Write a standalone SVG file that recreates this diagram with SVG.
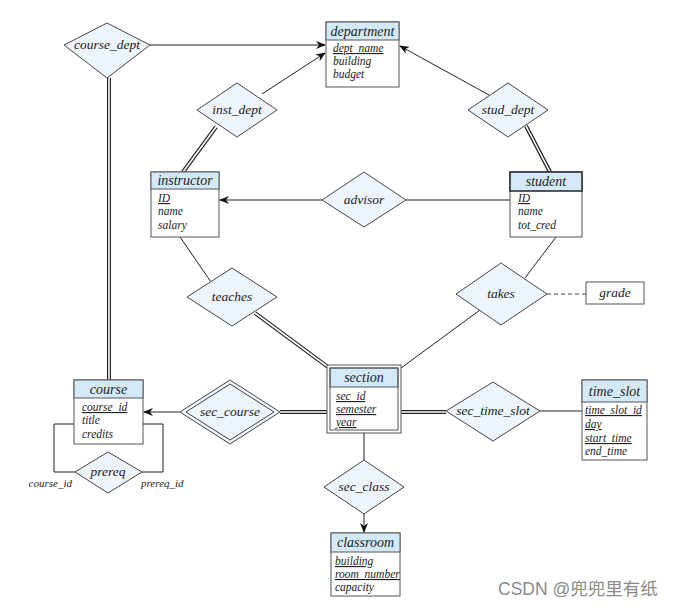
<svg xmlns="http://www.w3.org/2000/svg" width="685" height="609" viewBox="0 0 685 609">
<style>
.box{fill:#fff;stroke:#555;stroke-width:1}
.hdr{fill:#d3e9f7;stroke:#555;stroke-width:1}
.dia{fill:#eef4fb;stroke:#444;stroke-width:1}
.ln{fill:none;stroke:#222;stroke-width:1}
.dbl{fill:none;stroke:#222;stroke-width:4}
.dblw{fill:none;stroke:#fff;stroke-width:1.6}
.dash{fill:none;stroke:#444;stroke-width:1;stroke-dasharray:4,3}
text{font-family:"Liberation Serif","DejaVu Serif",serif;font-style:italic;fill:#222}
.ht{font-size:14px;text-anchor:middle}
.at{font-size:11.5px}
.u{text-decoration:underline}
.dt{font-size:13.5px;text-anchor:middle}
.lb{font-size:11px}
.wm{font-family:"Liberation Sans","Noto Sans CJK SC",sans-serif;font-style:normal;font-size:17.5px;fill:#8a8a8a}
</style>
<defs>
<marker id="ar" markerWidth="10" markerHeight="8" refX="9" refY="4" orient="auto" markerUnits="userSpaceOnUse">
<path d="M0,0 L10,4 L0,8 L3,4 Z" fill="#111"/>
</marker>
</defs>
<g id="connectors">
<path class="ln" d="M150,45 L325,45" marker-end="url(#ar)"/>
<path class="dbl" d="M109,78 L109,380"/><path class="dblw" d="M109,78 L109,380"/>
<path class="ln" d="M262,94 L325,53" marker-end="url(#ar)"/>
<path class="dbl" d="M216,127 L183,172"/><path class="dblw" d="M216,127 L183,172"/>
<path class="ln" d="M489,95 L400,46" marker-end="url(#ar)"/>
<path class="dbl" d="M526,126 L550,172"/><path class="dblw" d="M526,126 L550,172"/>
<path class="ln" d="M322,200 L220,200" marker-end="url(#ar)"/>
<path class="ln" d="M406,200 L510,200"/>
<path class="ln" d="M180,237 L211,282"/>
<path class="dbl" d="M255,313 L328,367"/><path class="dblw" d="M255,313 L328,367"/>
<path class="ln" d="M556,237 L525,278"/>
<path class="ln" d="M480,310 L401,368"/>
<path class="dash" d="M547,294 L586,294"/>
<path class="ln" d="M180,412 L144,412" marker-end="url(#ar)"/>
<path class="dbl" d="M280,412 L327,412"/><path class="dblw" d="M280,412 L327,412"/>
<path class="dbl" d="M401,412 L446,412"/><path class="dblw" d="M401,412 L446,412"/>
<path class="ln" d="M540,411 L582,411"/>
<path class="ln" d="M364,433 L364,460"/>
<path class="ln" d="M364,514 L364,532" marker-end="url(#ar)"/>
<path class="ln" d="M74,424 L54,424 L54,472 L75,472"/>
<path class="ln" d="M143,424 L163,424 L163,472 L142,472"/>
</g>
<g id="department">
<rect class="box" x="326" y="22" width="73" height="65"/>
<rect class="hdr" x="326" y="22" width="73" height="18"/>
<text class="ht" x="362.5" y="36">department</text>
<text class="at u" x="333" y="52">dept_name</text>
<text class="at" x="333" y="65">building</text>
<text class="at" x="333" y="78">budget</text>
</g>
<g id="course_dept">
<polygon class="dia" points="107,23 150,45 107,78 64,45"/>
<text class="dt" x="107" y="49">course_dept</text>
</g>
<g id="inst_dept">
<polygon class="dia" points="237,83 277,110 237,137 197,110"/>
<text class="dt" x="237" y="114">inst_dept</text>
</g>
<g id="stud_dept">
<polygon class="dia" points="508,83 548,110 508,137 468,110"/>
<text class="dt" x="508" y="114">stud_dept</text>
</g>
<g id="instructor">
<rect class="box" x="151" y="172" width="68" height="65"/>
<rect class="hdr" x="151" y="172" width="68" height="17"/>
<text class="ht" x="185" y="185">instructor</text>
<text class="at u" x="158" y="202">ID</text>
<text class="at" x="158" y="215">name</text>
<text class="at" x="158" y="229">salary</text>
</g>
<g id="student">
<rect class="box" x="510" y="172" width="72" height="65"/>
<rect class="hdr" x="510" y="172" width="72" height="19" style="stroke:#222;stroke-width:1.5"/>
<text class="ht" x="546" y="186">student</text>
<text class="at u" x="518" y="202">ID</text>
<text class="at" x="518" y="215">name</text>
<text class="at" x="518" y="229">tot_cred</text>
</g>
<g id="advisor">
<polygon class="dia" points="364,172 406,200 364,227 322,200"/>
<text class="dt" x="364" y="204">advisor</text>
</g>
<g id="teaches">
<polygon class="dia" points="232,268 277,297 232,326 187,297"/>
<text class="dt" x="232" y="301">teaches</text>
</g>
<g id="takes">
<polygon class="dia" points="501,263 547,294 501,325 456,294"/>
<text class="dt" x="501" y="298">takes</text>
</g>
<g id="grade">
<rect class="box" x="586" y="282" width="58" height="22"/>
<text class="dt" x="615" y="297">grade</text>
</g>
<g id="section">
<rect class="box" x="327" y="365" width="74" height="68"/>
<rect class="hdr" x="330" y="368" width="68" height="19"/>
<rect x="330" y="368" width="68" height="62" fill="none" stroke="#555"/>
<text class="ht" x="364" y="382">section</text>
<text class="at u" x="336" y="400">sec_id</text>
<text class="at u" x="336" y="413">semester</text>
<text class="at u" x="336" y="426">year</text>
</g>
<g id="sec_course">
<polygon class="dia" points="230,380 280,412 230,444 180,412"/>
<polygon fill="none" stroke="#444" points="230,384 274,412 230,440 186,412"/>
<text class="dt" x="230" y="416">sec_course</text>
</g>
<g id="course">
<rect class="box" x="74" y="380" width="69" height="64"/>
<rect class="hdr" x="74" y="380" width="69" height="18"/>
<text class="ht" x="108.5" y="394">course</text>
<text class="at u" x="82" y="411">course_id</text>
<text class="at" x="82" y="424">title</text>
<text class="at" x="82" y="438">credits</text>
</g>
<g id="prereq">
<polygon class="dia" points="108,452 142,472 108,493 75,472"/>
<text class="dt" x="108" y="476">prereq</text>
<text class="lb" x="72" y="487" text-anchor="end">course_id</text>
<text class="lb" x="141" y="487">prereq_id</text>
</g>
<g id="sec_time_slot">
<polygon class="dia" points="493,382 540,411 493,441 446,411"/>
<text class="dt" x="493" y="415">sec_time_slot</text>
</g>
<g id="time_slot">
<rect class="box" x="582" y="380" width="65" height="80"/>
<rect class="hdr" x="582" y="380" width="65" height="22"/>
<text class="ht" x="614.5" y="396">time_slot</text>
<text class="at u" x="585" y="414">time_slot_id</text>
<text class="at u" x="585" y="428">day</text>
<text class="at u" x="585" y="442">start_time</text>
<text class="at" x="585" y="455">end_time</text>
</g>
<g id="sec_class">
<polygon class="dia" points="364,460 404,487 364,514 324,487"/>
<text class="dt" x="364" y="491">sec_class</text>
</g>
<g id="classroom">
<rect class="box" x="331" y="533" width="69" height="63"/>
<rect class="hdr" x="331" y="533" width="69" height="19"/>
<text class="ht" x="365.5" y="547">classroom</text>
<text class="at u" x="335" y="565">building</text>
<text class="at u" x="335" y="578">room_number</text>
<text class="at" x="335" y="591">capacity</text>
</g>
<text class="wm" x="498" y="595">CSDN @兜兜里有纸</text>
</svg>
